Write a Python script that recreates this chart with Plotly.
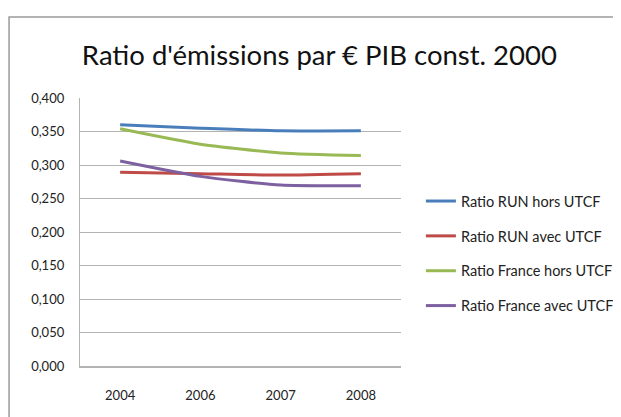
import plotly.graph_objects as go

YEARS = ["2004", "2006", "2007", "2008"]

RUN_HORS = [0.360, 0.355, 0.351, 0.351]
RUN_AVEC = [0.289, 0.287, 0.285, 0.287]
FR_HORS = [0.354, 0.331, 0.318, 0.314]
FR_AVEC = [0.306, 0.283, 0.270, 0.269]

SERIES = [
    ("Ratio RUN hors UTCF", RUN_HORS, "#4a7ebb"),
    ("Ratio RUN avec UTCF", RUN_AVEC, "#be4b48"),
    ("Ratio France hors UTCF", FR_HORS, "#98b954"),
    ("Ratio France avec UTCF", FR_AVEC, "#7d60a0"),
]

FONT = "Lato, Roboto, sans-serif"

fig = go.Figure()
for i, (name, vals, color) in enumerate(SERIES):
    fig.add_trace(go.Scatter(
        x=YEARS, y=vals, name=name, mode="lines",
        line=dict(color=color, width=3, shape="spline", smoothing=0.6),
        legendgroup=str(i),
    ))

# page has an 8px body margin, so the figure is shrunk to fit and laid out 8px up/left
fig.update_layout(
    width=613, height=409,
    margin=dict(l=72, r=220, t=90, b=51, autoexpand=False),
    paper_bgcolor="white", plot_bgcolor="white",
    separators=", ",
    font=dict(family=FONT, size=13, color="#222222"),
    title=dict(text="Ratio d'émissions par € PIB const. 2000", x=0.508, xanchor="center",
               y=0.885, yanchor="middle", font=dict(family=FONT, size=27.5, color="#111111")),
    showlegend=True,
    legend=dict(x=1.062, y=0.675, xanchor="left", yanchor="top", tracegroupgap=13,
                font=dict(family=FONT, size=14.5, color="#222222"),
                itemwidth=30, bgcolor="rgba(0,0,0,0)"),
)
fig.update_xaxes(range=[-0.5, 3.5], showgrid=False, showline=True, linecolor="#b3b3b3",
                 linewidth=2, ticks="", tickfont=dict(size=13), ticklabelstandoff=16)
fig.update_yaxes(range=[0, 0.4], dtick=0.05, tickformat=".3f", showgrid=True,
                 gridcolor="#b3b3b3", gridwidth=1.3, showline=True, linecolor="#b3b3b3",
                 linewidth=1.3, zeroline=False, ticks="", tickfont=dict(size=13),
                 ticklabelstandoff=12)

# chart frame: only the left and top edges are visible in the crop
fig.add_shape(type="path", xref="paper", yref="paper",
              path="M -0.221,-0.3 L -0.221,1.302 L 1.9,1.302",
              line=dict(color="#9a9a9a", width=1.5), layer="below")

fig.write_html("out.html")
